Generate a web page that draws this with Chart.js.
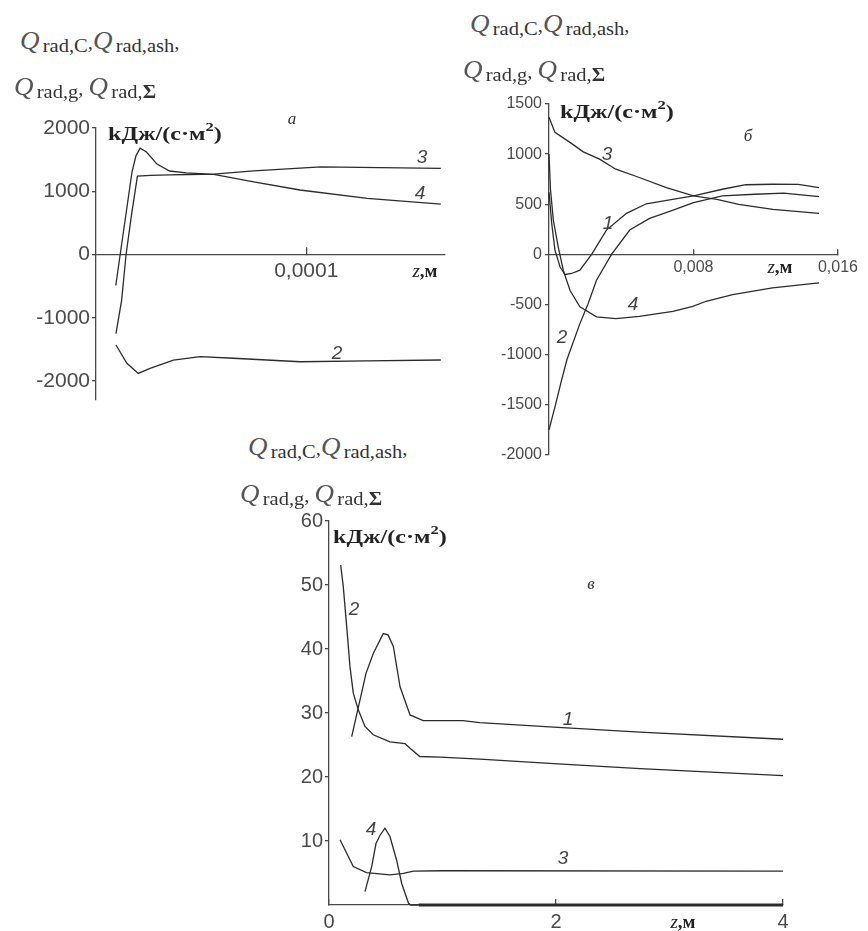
<!DOCTYPE html>
<html>
<head>
<meta charset="utf-8">
<script src="https://cdn.jsdelivr.net/npm/chart.js@4"></script>
<style>
  body { margin: 0; background: #fff; width: 868px; height: 931px; position: relative; overflow: hidden; }
  canvas { position: absolute; }
  .t { position: absolute; white-space: nowrap; color: #333; line-height: 1; }
  .hdr { font-family: "Liberation Serif", serif; font-size: 19px; transform: scaleX(1.08); transform-origin: left top; }
  .hdr i { font-size: 25px; font-family: "Liberation Serif", serif; color: #555; }
  .hdr sub { font-size: 19px; vertical-align: -3px; margin-left: 3px; }
  .unit { font-family: "Liberation Serif", serif; font-weight: bold; font-size: 19px; transform: translateY(-50%) scaleX(1.27); transform-origin: left center; color: #222; }
  .unit sup { font-size: 13px; vertical-align: 9px; }
  .num { font-family: "Liberation Sans", sans-serif; font-style: italic; font-size: 19px; transform: translate(-50%, -50%); color: #444; }
  .pan { font-family: "Liberation Serif", serif; font-style: italic; font-size: 17px; transform: translate(-50%, -50%); }
  .zm { font-family: "Liberation Serif", serif; font-size: 19px; transform: translate(-50%, -50%); color: #222; }
  .zm b { font-weight: bold; }
</style>
</head>
<body>

<canvas id="chartA" width="470" height="320" style="left:0;top:100px"></canvas>
<canvas id="chartB" width="408" height="400" style="left:460px;top:80px"></canvas>
<canvas id="chartC" width="580" height="431" style="left:240px;top:500px"></canvas>

<!-- panel а -->
<div class="t hdr" style="left:20px;top:28px"><i>Q</i><sub>rad,C</sub>,<i>Q</i><sub>rad,ash</sub>,</div>
<div class="t hdr" style="left:14px;top:74px"><i>Q</i><sub>rad,g</sub>, <i>Q</i><sub>rad,<b>Σ</b></sub></div>
<div class="t unit" style="left:108px;top:131px">kДж/(с·м<sup>2</sup>)</div>
<div class="t pan" style="left:292px;top:118px">а</div>
<div class="t num" style="left:422px;top:156px">3</div>
<div class="t num" style="left:420px;top:192px">4</div>
<div class="t num" style="left:337px;top:352px">2</div>
<div class="t zm" style="left:425px;top:270px"><i>z</i><b>,м</b></div>

<!-- panel б -->
<div class="t hdr" style="left:470px;top:11px"><i>Q</i><sub>rad,C</sub>,<i>Q</i><sub>rad,ash</sub>,</div>
<div class="t hdr" style="left:463px;top:57px"><i>Q</i><sub>rad,g</sub>, <i>Q</i><sub>rad,<b>Σ</b></sub></div>
<div class="t unit" style="left:560px;top:109px">kДж/(с·м<sup>2</sup>)</div>
<div class="t pan" style="left:748px;top:135px">б</div>
<div class="t num" style="left:607px;top:153px">3</div>
<div class="t num" style="left:608px;top:222px">1</div>
<div class="t num" style="left:633px;top:303px">4</div>
<div class="t num" style="left:562px;top:336px">2</div>
<div class="t zm" style="left:780px;top:266px"><i>z</i><b>,м</b></div>

<!-- panel в -->
<div class="t hdr" style="left:248px;top:434px"><i>Q</i><sub>rad,C</sub>,<i>Q</i><sub>rad,ash</sub>,</div>
<div class="t hdr" style="left:240px;top:481px"><i>Q</i><sub>rad,g</sub>, <i>Q</i><sub>rad,<b>Σ</b></sub></div>
<div class="t unit" style="left:333px;top:534px">kДж/(с·м<sup>2</sup>)</div>
<div class="t pan" style="left:591px;top:583px">в</div>
<div class="t num" style="left:354px;top:608px">2</div>
<div class="t num" style="left:568px;top:718px">1</div>
<div class="t num" style="left:563px;top:857px">3</div>
<div class="t num" style="left:371px;top:828px">4</div>
<div class="t zm" style="left:683px;top:921px"><i>z</i><b>,м</b></div>

<script>
// panel а: z, м  /  Q, kДж/(с·м2)
const aCurve2 = [[9.5e-6, -1430], [1.47e-5, -1720], [2.01e-5, -1880], [2.57e-5, -1800], [3.68e-5, -1670],
                 [4.95e-5, -1615], [6.54e-5, -1640], [9.71e-5, -1695], [1.29e-4, -1680], [1.64e-4, -1668]];
const aCurve3 = [[9.5e-6, -1250], [1.22e-5, -720], [1.43e-5, 0], [1.7e-5, 650], [1.97e-5, 1240],
                 [2.6e-5, 1250], [3.5e-5, 1258], [4.4e-5, 1265], [5.6e-5, 1272], [7.5e-5, 1322],
                 [1.07e-4, 1385], [1.35e-4, 1372], [1.64e-4, 1363]];
const aCurve4 = [[9.4e-6, -490], [1.71e-5, 1300], [1.9e-5, 1560], [2.1e-5, 1680], [2.4e-5, 1620],
                 [2.9e-5, 1430], [3.5e-5, 1320], [4.3e-5, 1290], [5.6e-5, 1268], [7.5e-5, 1150],
                 [9.7e-5, 1020], [1.29e-4, 889], [1.64e-4, 798]];
const aTicksX = [0.0001];
const aTicksY = [-2000, -1000, 0, 1000, 2000];

// panel б
const bCurve1 = [[0, 620], [0.00015, 310], [0.00033, 43], [0.00061, -123], [0.00088, -200], [0.00125, -190],
                 [0.00171, -157], [0.00236, 0], [0.00318, 243], [0.00429, 410], [0.00539, 505], [0.00668, 545],
                 [0.008, 583], [0.0096, 650], [0.0109, 695], [0.0124, 700], [0.0138, 698], [0.01495, 667]];
const bCurve2 = [[0, -1750], [0.00033, -1520], [0.0007, -1250], [0.00099, -1050], [0.00171, -690],
                 [0.00217, -490], [0.00263, -257], [0.00346, 0], [0.00447, 243], [0.00557, 360],
                 [0.00668, 430], [0.008, 517], [0.0096, 583], [0.0114, 600], [0.013, 612], [0.01495, 577]];
const bCurve3 = [[0, 1367], [0.00033, 1217], [0.00116, 1117], [0.0019, 1023], [0.0028, 950], [0.0037, 850],
                 [0.005, 767], [0.0065, 667], [0.008, 583], [0.0093, 550], [0.0105, 500], [0.0124, 450],
                 [0.01495, 410]];
const bCurve4 = [[0, 1000], [0.00008, 650], [0.00024, 343], [0.00051, 76], [0.00079, -157], [0.00116, -357],
                 [0.00171, -523], [0.00263, -623], [0.0037, -640], [0.005, -617], [0.00686, -567],
                 [0.00796, -517], [0.0087, -467], [0.01017, -400], [0.01237, -333], [0.01495, -283]];
const bTicksX = [0.008, 0.016];
const bTicksY = [-2000, -1500, -1000, -500, 0, 500, 1000, 1500];

// panel в
const cCurve1 = [[0.2, 26.3], [0.326, 36.2], [0.39, 39.3], [0.478, 42.4], [0.52, 42.2], [0.567, 40.4],
                 [0.626, 34.1], [0.714, 29.7], [0.83, 28.8], [1.18, 28.8], [1.33, 28.5], [1.98, 27.8],
                 [2.74, 27.0], [4, 25.9]];
const cCurve2 = [[0.103, 53.1], [0.126, 49.7], [0.156, 43.5], [0.185, 37.2], [0.214, 33.1], [0.258, 30.5],
                 [0.317, 27.9], [0.39, 26.6], [0.537, 25.5], [0.67, 25.2], [0.714, 24.5], [0.8, 23.2],
                 [0.978, 23.1], [1.33, 22.8], [1.98, 22.1], [2.74, 21.3], [4, 20.2]];
const cCurve3 = [[0.097, 10.2], [0.214, 6.0], [0.33, 5.05], [0.537, 4.7], [0.655, 4.95], [0.743, 5.3],
                 [1.0, 5.35], [4, 5.3]];
const cCurve4 = [[0.317, 2.1], [0.376, 6.0], [0.414, 9.6], [0.45, 10.9], [0.493, 12.0], [0.537, 10.7],
                 [0.596, 7.0], [0.64, 3.4], [0.7, 0.3], [0.72, 0], [0.79, 0], [4, 0]];
const cTicksX = [0, 2, 4];
const cTicksY = [10, 20, 30, 40, 50, 60];

const lineColor = '#2b2b2b';
const axisColor = '#484848';
const tickColor = '#4a4a4a';

function curve(pairs) {
    return {
        data: pairs.map(p => ({ x: p[0], y: p[1] })),
        borderColor: lineColor,
        borderWidth: 1.3,
        pointRadius: 0,
        tension: 0,
        fill: false,
        clip: 4
    };
}

// comma as decimal separator, like the original
function fmt(v) {
    return String(v).replace('.', ',');
}

// y axis box gets a fixed width (labels are clipped to the box),
// x axis at the bottom gets a fixed height
function panelOptions(o) {
    return {
        responsive: false,
        animation: false,
        events: [],
        layout: { padding: o.padding },
        plugins: { legend: { display: false }, tooltip: { enabled: false } },
        scales: {
            x: {
                type: 'linear',
                min: o.xMin,
                max: o.xMax,
                position: o.xPosition,
                border: { color: axisColor, width: 1.3 },
                grid: { drawOnChartArea: false, color: axisColor, lineWidth: 1.3, tickLength: o.xTickLen },
                ticks: { color: tickColor, font: o.font, padding: o.xPad, maxRotation: 0, autoSkip: false, callback: fmt },
                afterBuildTicks: s => { s.ticks = o.xTicks.map(v => ({ value: v })); },
                afterFit: s => { s.height = o.xBox; }
            },
            y: {
                type: 'linear',
                min: o.yMin,
                max: o.yMax,
                border: { color: axisColor, width: 1.3 },
                grid: { drawOnChartArea: false, color: axisColor, lineWidth: 1.3, tickLength: 4 },
                ticks: { color: tickColor, font: o.font, padding: o.yPad, autoSkip: false, callback: fmt },
                afterBuildTicks: s => { s.ticks = o.yTicks.map(v => ({ value: v })); },
                afterFit: s => { s.width = o.yBox; }
            }
        }
    };
}

document.addEventListener('DOMContentLoaded', function () {
    // а
    new Chart(document.getElementById('chartA'), {
        type: 'line',
        data: { datasets: [curve(aCurve2), curve(aCurve3), curve(aCurve4)] },
        options: panelOptions({
            padding: { left: 16, top: 28, right: 25, bottom: 20 },
            xMin: 0, xMax: 1.66e-4, xPosition: { y: 0 }, xTicks: aTicksX, xTickLen: -8, xPad: 11.7, xBox: 0,
            yMin: -2300, yMax: 2000, yTicks: aTicksY, yPad: 2, yBox: 80,
            font: { family: 'Liberation Sans', size: 21 }
        })
    });

    // б
    new Chart(document.getElementById('chartB'), {
        type: 'line',
        data: { datasets: [curve(bCurve1), curve(bCurve2), curve(bCurve3), curve(bCurve4)] },
        options: panelOptions({
            padding: { left: 19, top: 24, right: 29, bottom: 25 },
            xMin: 0, xMax: 0.016, xPosition: { y: 0 }, xTicks: bTicksX, xTickLen: -6, xPad: 10, xBox: 0,
            yMin: -2000, yMax: 1500, yTicks: bTicksY, yPad: 3, yBox: 70,
            font: { family: 'Liberation Sans', size: 16 }
        })
    });

    // в
    const c4 = curve(cCurve4);
    // the tail of curve 4 lies on the axis and looks heavier
    c4.segment = { borderWidth: ctx => (ctx.p0.parsed.x >= 0.78 ? 2.8 : 1.3) };
    new Chart(document.getElementById('chartC'), {
        type: 'line',
        data: { datasets: [curve(cCurve1), curve(cCurve2), curve(cCurve3), c4] },
        options: panelOptions({
            padding: { left: 29, top: 21, right: 37, bottom: 0 },
            xMin: 0, xMax: 4, xPosition: 'bottom', xTicks: cTicksX, xTickLen: -6, xPad: 11.7, xBox: 26,
            yMin: 0, yMax: 60, yTicks: cTicksY, yPad: 2, yBox: 60,
            font: { family: 'Liberation Sans', size: 20 }
        })
    });
});
</script>
</body>
</html>
